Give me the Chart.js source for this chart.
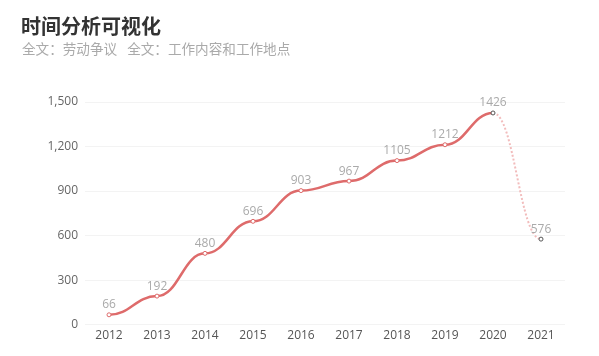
<!DOCTYPE html>
<html>
<head>
<meta charset="utf-8">
<script src="https://cdn.jsdelivr.net/npm/chart.js@4/dist/chart.umd.min.js"></script>
<style>
  html, body { margin: 0; padding: 0; background: #fff; }
  #wrap { position: relative; width: 599px; height: 356px; font-family: "Noto Sans CJK SC", sans-serif; }
  #title { position: absolute; left: 21px; top: 12px; font-size: 20px; font-weight: bold; color: #333; line-height: 28px; }
  #sub { position: absolute; left: 22px; top: 38px; font-size: 13.6px; color: #aaa; line-height: 20px; }
  #sub span { margin-left: 10px; }
  canvas { position: absolute; left: 0; top: 0; }
</style>
</head>
<body>
<div id="wrap">
  <canvas id="chart" width="599" height="356"></canvas>
  <div id="title">时间分析可视化</div>
  <div id="sub">全文：劳动争议<span>全文：工作内容和工作地点</span></div>
</div>
<script>
// 数据
const years = ['2012', '2013', '2014', '2015', '2016', '2017', '2018', '2019', '2020', '2021'];
const counts = [66, 192, 480, 696, 903, 967, 1105, 1212, 1426, 576];
const yTicks = [0, 300, 600, 900, 1200, 1500];

const lineColor = '#de6b6b';
const dashColor = '#f2bcbc';

// tangente horizontal em cada ponto (curva em "S" entre pontos)
const flatCurve = {
    id: 'flatCurve',
    beforeDatasetsDraw(chart) {
        const meta = chart.getDatasetMeta(0);
        meta.dataset.updateControlPoints(chart.chartArea, 'x');
        const pts = meta.data;
        for (let i = 0; i < pts.length; i++) {
            const p = pts[i];
            const prev = pts[i - 1], next = pts[i + 1];
            const dPrev = prev ? (p.x - prev.x) * 0.45 : 0;
            const dNext = next ? (next.x - p.x) * 0.45 : 0;
            p.cp1x = p.x - dPrev; p.cp1y = p.y;
            p.cp2x = p.x + dNext; p.cp2y = p.y;
        }
    }
};

// rótulos de valor acima dos pontos
const valueLabels = {
    id: 'valueLabels',
    afterDatasetsDraw(chart) {
        const ctx = chart.ctx;
        const pts = chart.getDatasetMeta(0).data;
        ctx.save();
        ctx.font = '12px "Open Sans", sans-serif';
        ctx.fillStyle = '#aaa';
        ctx.textAlign = 'center';
        ctx.textBaseline = 'bottom';
        pts.forEach((p, i) => {
            ctx.fillText(String(counts[i]), p.x, p.y - 4);
        });
        ctx.restore();
    }
};

new Chart(document.getElementById('chart'), {
    type: 'line',
    data: {
        labels: years,
        datasets: [{
            data: counts,
            borderColor: lineColor,
            borderWidth: 2.5,
            tension: 0.4,
            pointRadius: 2,
            pointBorderWidth: 1,
            pointBackgroundColor: '#fff',
            pointBorderColor: counts.map((v, i) => i >= years.length - 2 ? '#555' : lineColor),
            segment: {
                borderColor: ctx => ctx.p1DataIndex === years.length - 1 ? dashColor : lineColor,
                borderDash: ctx => ctx.p1DataIndex === years.length - 1 ? [2, 2] : [],
                borderWidth: ctx => ctx.p1DataIndex === years.length - 1 ? 2 : 2.5
            }
        }]
    },
    options: {
        responsive: false,
        animation: false,
        locale: 'en-US',
        layout: { padding: { top: 102, left: 0, right: 34, bottom: 9 } },
        plugins: {
            legend: { display: false },
            tooltip: { enabled: false }
        },
        scales: {
            x: {
                offset: true,
                grid: { display: false, drawTicks: false },
                border: { display: false },
                ticks: { color: '#555', font: { size: 12, family: '"Open Sans", sans-serif' }, padding: 4 }
            },
            y: {
                min: 0,
                max: 1500,
                afterBuildTicks: axis => { axis.ticks = yTicks.map(v => ({ value: v })); },
                afterFit: axis => { axis.width = 85; },
                grid: { color: '#f3f3f3', drawTicks: false },
                border: { display: false },
                ticks: { color: '#666', font: { size: 12, family: '"Open Sans", sans-serif' }, padding: 7 }
            }
        }
    },
    plugins: [flatCurve, valueLabels]
});
</script>
</body>
</html>
